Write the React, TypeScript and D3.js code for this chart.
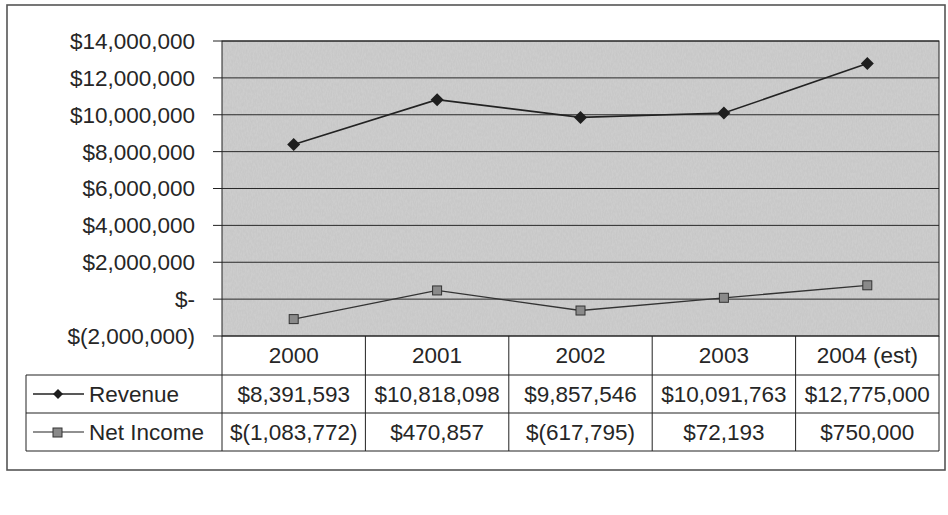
import React from "react";
import * as d3 from "d3";

const categories = ["2000", "2001", "2002", "2003", "2004 (est)"];
const revenue = [8391593, 10818098, 9857546, 10091763, 12775000];
const netIncome = [-1083772, 470857, -617795, 72193, 750000];
const revenueLabels = ["$8,391,593", "$10,818,098", "$9,857,546", "$10,091,763", "$12,775,000"];
const netIncomeLabels = ["$(1,083,772)", "$470,857", "$(617,795)", "$72,193", "$750,000"];
const yTicks = [-2000000, 0, 2000000, 4000000, 6000000, 8000000, 10000000, 12000000, 14000000];
const seriesNames = ["Revenue", "Net Income"];

const fmtTick = (v: number) => {
  if (v === 0) return "$-";
  const s = d3.format(",")(Math.abs(v));
  return v < 0 ? `$(${s})` : `$${s}`;
};

export default function App() {
  const W = 948, H = 515;
  const left = 222, right = 939, top = 41, bottom = 336;
  const x = d3.scaleBand<string>().domain(categories).range([left, right]).padding(0);
  const y = d3.scaleLinear().domain([-2000000, 14000000]).range([bottom, top]);
  const cx = (c: string) => (x(c) as number) + x.bandwidth() / 2;
  const line = d3.line<number>().x((_, i) => cx(categories[i])).y((d) => y(d));
  const rowTop = 375, rowMid = 413, rowBot = 451, tableLeft = 26;
  const font = "'Liberation Sans', Arial, sans-serif";
  const fs = 22.5;
  const diamond = (px: number, py: number, r = 6) => `M${px},${py - r}L${px + r},${py}L${px},${py + r}L${px - r},${py}Z`;
  const ink = "#262626";

  return (
    <svg width={W} height={H} style={{ position: "absolute", left: 0, top: 0, background: "#fff" }} fontFamily={font}>
      <defs>
        <filter id="noise" x="0" y="0" width="100%" height="100%">
          <feTurbulence type="fractalNoise" baseFrequency="0.8 0.3" numOctaves="2" seed="3" result="t" />
          <feColorMatrix type="matrix" values="0 0 0 0 0.55  0 0 0 0 0.55  0 0 0 0 0.55  0 0 0 -1.4 1.05" result="c" />
          <feComposite in="c" in2="SourceGraphic" operator="in" />
        </filter>
      </defs>
      <rect x={0} y={0} width={W} height={H} fill="#fff" />
      {/* outer chart frame */}
      <rect x={7} y={5} width={938} height={465} fill="none" stroke="#555" strokeWidth={1.6} />
      {/* plot area */}
      <rect x={left} y={top} width={right - left} height={bottom - top} fill="#cdcdcd" />
      <rect x={left} y={top} width={right - left} height={bottom - top} fill="#ffffff" filter="url(#noise)" opacity={0.8} />
      {/* gridlines and y ticks */}
      {yTicks.map((t) => (
        <g key={t}>
          <line x1={left} x2={right} y1={y(t)} y2={y(t)} stroke="#2a2a2a" strokeWidth={1} />
          <line x1={213} x2={left} y1={y(t)} y2={y(t)} stroke="#222" strokeWidth={1} />
          <text x={195} y={y(t)} dy="0.35em" textAnchor="end" fontSize={fs} fill={ink}>{fmtTick(t)}</text>
        </g>
      ))}
      <rect x={left} y={top} width={right - left} height={bottom - top} fill="none" stroke="#222" strokeWidth={1} />
      {/* series */}
      <path d={line(revenue) || ""} fill="none" stroke="#222" strokeWidth={1.6} />
      <path d={line(netIncome) || ""} fill="none" stroke="#333" strokeWidth={1.3} />
      {revenue.map((v, i) => (
        <path key={"r" + i} d={diamond(cx(categories[i]), y(v), 6.5)} fill="#1e1e1e" />
      ))}
      {netIncome.map((v, i) => (
        <rect key={"n" + i} x={cx(categories[i]) - 4.5} y={y(v) - 4.5} width={9} height={9} fill="#8a8a8a" stroke="#333" strokeWidth={1} />
      ))}
      {/* data table */}
      {categories.map((c, i) => (
        <line key={"v" + i} x1={x(c) as number} x2={x(c) as number} y1={bottom} y2={rowBot} stroke="#222" strokeWidth={1} />
      ))}
      <line x1={right} x2={right} y1={bottom} y2={rowBot} stroke="#222" strokeWidth={1} />
      <line x1={tableLeft} x2={tableLeft} y1={rowTop} y2={rowBot} stroke="#222" strokeWidth={1} />
      {[rowTop, rowMid, rowBot].map((ry) => (
        <line key={ry} x1={tableLeft} x2={right} y1={ry} y2={ry} stroke="#222" strokeWidth={1.2} />
      ))}
      {categories.map((c) => (
        <text key={"c" + c} x={cx(c)} y={(bottom + rowTop) / 2} dy="0.35em" textAnchor="middle" fontSize={fs} fill={ink}>{c}</text>
      ))}
      {revenueLabels.map((s, i) => (
        <text key={"rl" + i} x={cx(categories[i])} y={(rowTop + rowMid) / 2} dy="0.35em" textAnchor="middle" fontSize={fs} fill={ink}>{s}</text>
      ))}
      {netIncomeLabels.map((s, i) => (
        <text key={"nl" + i} x={cx(categories[i])} y={(rowMid + rowBot) / 2} dy="0.35em" textAnchor="middle" fontSize={fs} fill={ink}>{s}</text>
      ))}
      {/* legend keys */}
      <line x1={33} x2={84} y1={(rowTop + rowMid) / 2} y2={(rowTop + rowMid) / 2} stroke="#222" strokeWidth={1.4} />
      <path d={diamond(58, (rowTop + rowMid) / 2, 5)} fill="#1e1e1e" />
      <text x={89} y={(rowTop + rowMid) / 2} dy="0.35em" fontSize={fs} fill={ink}>{seriesNames[0]}</text>
      <line x1={33} x2={84} y1={(rowMid + rowBot) / 2} y2={(rowMid + rowBot) / 2} stroke="#222" strokeWidth={1.2} />
      <rect x={53} y={(rowMid + rowBot) / 2 - 4} width={9} height={9} fill="#8a8a8a" stroke="#333" strokeWidth={1} />
      <text x={89} y={(rowMid + rowBot) / 2} dy="0.35em" fontSize={fs} fill={ink}>{seriesNames[1]}</text>
    </svg>
  );
}
